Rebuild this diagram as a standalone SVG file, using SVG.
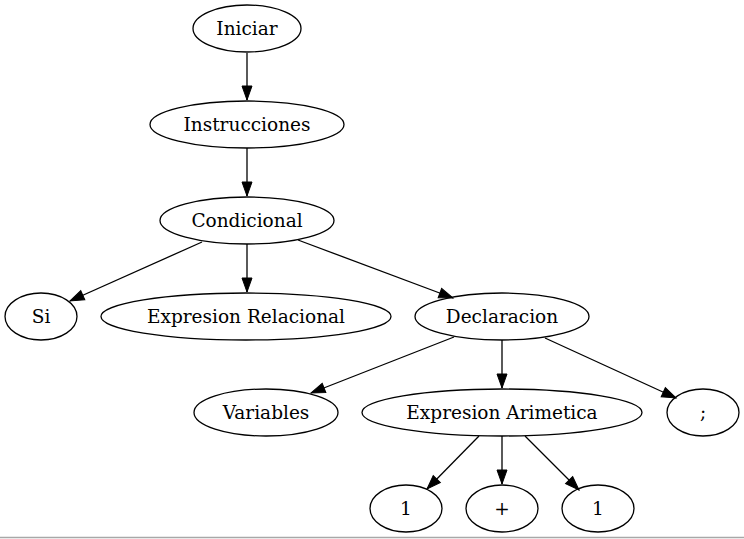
<svg xmlns="http://www.w3.org/2000/svg" width="744" height="539" viewBox="0 0 744 539">
<style>
.n ellipse{fill:none;stroke:#000;stroke-width:1.3}
.n text{font-family:"DejaVu Serif",serif;font-size:18.5px;text-anchor:middle;fill:#000}
.e line{stroke:#000;stroke-width:1.3;marker-end:url(#ah)}
</style>
<defs>
<marker id="ah" markerUnits="userSpaceOnUse" markerWidth="14" markerHeight="10" refX="14" refY="5" orient="auto" overflow="visible">
<path d="M0,0 L14,5 L0,10 z" fill="#000" stroke="#000" stroke-width="1"/>
</marker>
</defs>
<rect x="0" y="0" width="744" height="539" fill="#fff"/>
<line x1="0" y1="537.5" x2="744" y2="537.5" stroke="#a8a8a8" stroke-width="1.5"/>
<g class="e" id="edges">
<line x1="247" y1="53" x2="247" y2="100"/>
<line x1="247" y1="148" x2="247" y2="196"/>
<line x1="202" y1="242" x2="70" y2="301"/>
<line x1="247" y1="244" x2="247" y2="292"/>
<line x1="298" y1="240" x2="453" y2="298"/>
<line x1="454" y1="337" x2="311" y2="393"/>
<line x1="502" y1="340" x2="502" y2="388"/>
<line x1="545" y1="338" x2="676" y2="398"/>
<line x1="479" y1="436" x2="427" y2="489"/>
<line x1="502" y1="436" x2="502" y2="484"/>
<line x1="525" y1="436" x2="579" y2="490"/>
</g>
<g class="n" id="iniciar"><ellipse cx="247" cy="28.5" rx="54" ry="23.5"/><text x="247" y="34.5">Iniciar</text></g>
<g class="n" id="instrucciones"><ellipse cx="247" cy="124.5" rx="97" ry="23.5"/><text x="247" y="130.5">Instrucciones</text></g>
<g class="n" id="condicional"><ellipse cx="247" cy="220.5" rx="87" ry="23.5"/><text x="247" y="226.5">Condicional</text></g>
<g class="n" id="si"><ellipse cx="41" cy="316.5" rx="36" ry="23.5"/><text x="41" y="322.5">Si</text></g>
<g class="n" id="expresion-relacional"><ellipse cx="246" cy="316.5" rx="145" ry="23.5"/><text x="246" y="322.5">Expresion Relacional</text></g>
<g class="n" id="declaracion"><ellipse cx="502" cy="316.5" rx="87" ry="23.5"/><text x="502" y="322.5">Declaracion</text></g>
<g class="n" id="variables"><ellipse cx="266" cy="412.5" rx="72" ry="23.5"/><text x="266" y="418.5">Variables</text></g>
<g class="n" id="expresion-arimetica"><ellipse cx="502" cy="412.5" rx="140" ry="23.5"/><text x="502" y="418.5">Expresion Arimetica</text></g>
<g class="n" id="puntoycoma"><ellipse cx="703" cy="412.5" rx="36" ry="23.5"/><text x="703" y="418.5">;</text></g>
<g class="n" id="uno-a"><ellipse cx="406" cy="508.5" rx="36" ry="23.5"/><text x="406" y="514.5">1</text></g>
<g class="n" id="mas"><ellipse cx="502" cy="508.5" rx="36" ry="23.5"/><text x="502" y="514.5">+</text></g>
<g class="n" id="uno-b"><ellipse cx="598" cy="508.5" rx="36" ry="23.5"/><text x="598" y="514.5">1</text></g>
</svg>
